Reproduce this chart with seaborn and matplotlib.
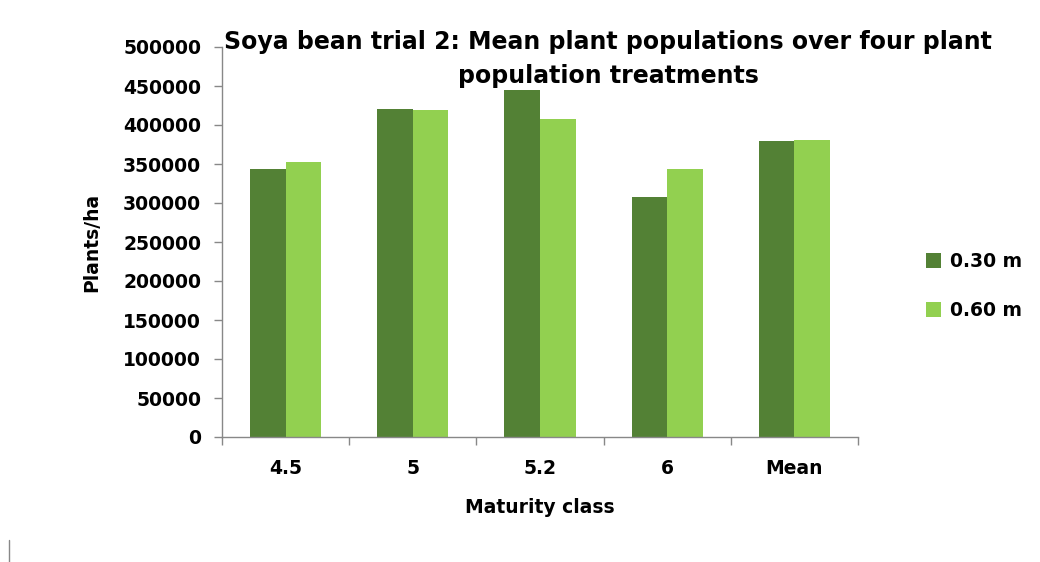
import matplotlib
matplotlib.use("Agg")
import matplotlib.pyplot as plt
import seaborn as sns
import pandas as pd
from matplotlib.patches import Patch

categories = ["4.5", "5", "5.2", "6", "Mean"]
series_names = ["0.30 m", "0.60 m"]
values_030 = [343000, 420400, 444900, 307700, 379000]
values_060 = [352700, 419100, 407300, 343600, 380700]
yticks = [0, 50000, 100000, 150000, 200000, 250000, 300000, 350000, 400000, 450000, 500000]
colors = ["#538135", "#92D050"]

df = pd.DataFrame({
    "cat": categories * 2,
    "series": [series_names[0]] * len(categories) + [series_names[1]] * len(categories),
    "val": values_030 + values_060,
})

sns.set_theme(style="white")
plt.rcParams["font.family"] = ["DejaVu Sans"]
plt.rcParams["font.weight"] = "bold"
plt.rcParams["text.color"] = "black"
plt.rcParams["axes.labelcolor"] = "black"
plt.rcParams["xtick.labelcolor"] = "black"
plt.rcParams["ytick.labelcolor"] = "black"

fig = plt.figure(figsize=(10.4, 5.62), dpi=100)
ax = fig.add_axes([222/1040, 1 - 437/562, (858-222)/1040, (437-47)/562])

sns.barplot(data=df, x="cat", y="val", hue="series", palette=colors, width=0.56,
            order=categories, hue_order=series_names, ax=ax, legend=False,
            saturation=1, edgecolor="none", linewidth=0)

ax.set_ylim(0, 500000)
ax.set_xlim(-0.5, len(categories) - 0.5)
ax.set_yticks(yticks)
ax.set_yticklabels([str(v) for v in yticks], fontsize=13.5, fontweight="bold")
ax.set_xticks(range(len(categories)))
ax.set_xticklabels(categories, fontsize=13.5, fontweight="bold")
ax.set_xticks([i - 0.5 for i in range(len(categories) + 1)], minor=True)
ax.tick_params(axis="x", which="major", length=0, pad=16)
ax.tick_params(axis="x", which="minor", length=6, color="#888888", width=1, direction="out", bottom=True)
ax.tick_params(axis="y", which="major", length=6, color="#888888", width=1, direction="out", left=True, pad=9)

for s in ["top", "right"]:
    ax.spines[s].set_visible(False)
for s in ["left", "bottom"]:
    ax.spines[s].set_color("#888888")
    ax.spines[s].set_linewidth(1)

ax.set_xlabel("Maturity class", fontsize=13.5, fontweight="bold", labelpad=14)
ax.set_ylabel("Plants/ha", fontsize=13.5, fontweight="bold", labelpad=16)

fig.text(608/1040, 1 - 59/562, "Soya bean trial 2: Mean plant populations over four plant\npopulation treatments",
         ha="center", va="center", fontsize=17, fontweight="bold", linespacing=1.55)

handles = [Patch(facecolor=c, edgecolor="none") for c in colors]
fig.legend(handles, series_names, loc="center left", bbox_to_anchor=(909/1040, 1 - 286/562),
           frameon=False, prop={"size": 13.5, "weight": "bold"}, handlelength=0.8, handleheight=0.8,
           labelspacing=1.6, handletextpad=0.5)

fig.lines.append(plt.Line2D([9/1040, 9/1040], [0, 22/562], transform=fig.transFigure, color="#888888", lw=1))

fig.savefig("out.png", dpi=100)
